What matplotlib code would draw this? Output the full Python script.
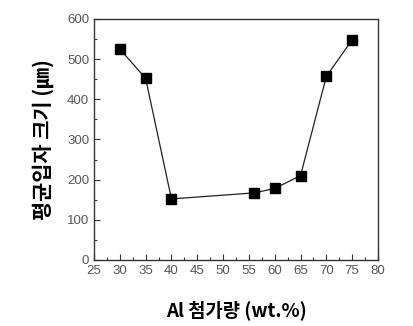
import matplotlib.pyplot as plt
from matplotlib.ticker import MultipleLocator

plt.rcParams['font.family'] = ['Noto Sans CJK KR', 'DejaVu Sans']

# ── dati ─────────────────────────────────────────────
al_wt = [30, 35, 40, 56, 60, 65, 70, 75]
size_um = [525, 452, 152, 167, 178, 210, 457, 548]
xlabel = 'Al 첨가량 (wt.%)'
ylabel = '평균입자 크기 (㎛)'

fig = plt.figure(figsize=(4.14, 3.26), dpi=100)
ax = fig.add_axes([0.227, 0.2025, 0.686, 0.7395])

ax.plot(al_wt, size_um, color='#222222', lw=0.9, marker='s', ms=7,
        mfc='black', mec='black')

ax.set_xlim(25, 80)
ax.set_ylim(0, 600)
ax.xaxis.set_major_locator(MultipleLocator(5))
ax.xaxis.set_minor_locator(MultipleLocator(2.5))
ax.yaxis.set_major_locator(MultipleLocator(100))
ax.yaxis.set_minor_locator(MultipleLocator(50))
ax.tick_params(which='both', direction='in', colors='#333333',
               labelcolor='#555555', labelsize=9.5, width=0.8)
ax.tick_params(which='major', length=4)
ax.tick_params(which='minor', length=2)
for lab in ax.get_xticklabels() + ax.get_yticklabels():
    lab.set_family('Liberation Sans')
for s in ax.spines.values():
    s.set_linewidth(1.0)
    s.set_color('#333333')

ax.set_xlabel(xlabel, fontsize=13.5, fontweight='bold', labelpad=17)
ax.set_ylabel(ylabel, fontsize=15, fontweight='bold', labelpad=9)

plt.savefig('out.png', dpi=100)
